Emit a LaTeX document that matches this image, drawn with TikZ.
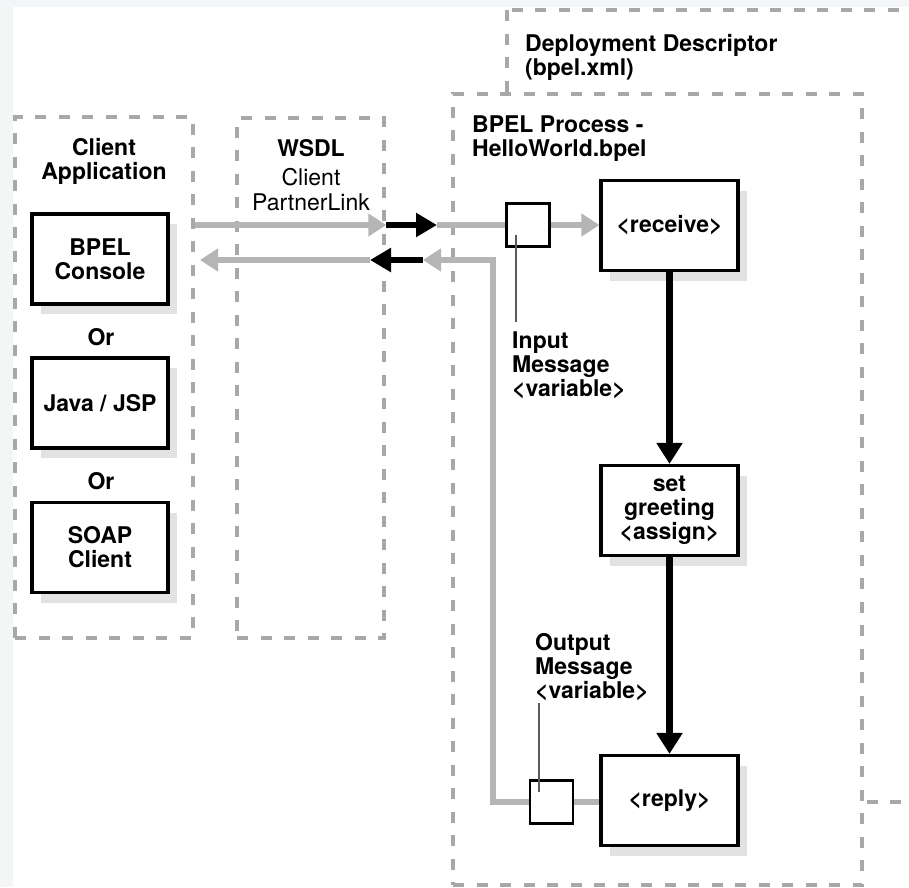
\documentclass[tikz,border=0pt]{standalone}
\usepackage{fontspec}
\setmainfont{TeX Gyre Heros}
\usetikzlibrary{arrows.meta,shadows,calc}
\definecolor{groupgray}{HTML}{A8A8A8}
\definecolor{flowgray}{HTML}{B5B5B5}
\definecolor{shadowgray}{HTML}{E2E2E2}
\definecolor{pagebg}{HTML}{F4F5F7}
\definecolor{leadgray}{HTML}{5A5A5A}
\newcommand{\labelfont}{\fontsize{23}{24}\selectfont\bfseries}
\newcommand{\plainfont}{\fontsize{23}{25}\selectfont}
\begin{document}
\begin{tikzpicture}[x=1pt,y=-1pt,
  groupbox/.style={draw=groupgray, line width=4.5pt, dash pattern=on 11pt off 12.5pt, fill=white, inner sep=0pt},
  card/.style={draw=black, line width=3.2pt, fill=white, minimum width=136pt, minimum height=90pt,
    align=center, font=\labelfont, inner sep=0pt,
    drop shadow={shadow xshift=9pt, shadow yshift=-10pt, fill=shadowgray, opacity=1}},
  varbox/.style={draw=black, line width=2.6pt, fill=white, minimum size=43pt, inner sep=0pt},
  caption/.style={font=\labelfont, align=left, inner sep=0pt, anchor=north west},
  ctitle/.style={font=\labelfont, align=center, inner sep=0pt, anchor=north},
  flow/.style={draw=flowgray, line width=6.5pt},
  flowtip/.style={flow, -{Triangle[length=18pt,width=22pt]}},
  ctrl/.style={draw=black, line width=6pt, -{Triangle[length=21pt,width=23pt]}},
  seq/.style={draw=black, line width=7.5pt, -{Triangle[length=21pt,width=25pt]}},
  leader/.style={draw=leadgray, line width=1.8pt}]
\useasboundingbox (0,0) rectangle (909,887);
\clip (0,0) rectangle (909,887);
% page
\fill[pagebg] (0,0) rectangle (909,887);
\fill[white] (13,7) rectangle (909,887);

% deployment descriptor and process containers
\draw[groupbox] (507,10) rectangle (980,802);
\node[groupbox, minimum width=409pt, minimum height=791pt] (proc) at (657.5,489.5) {};
\node[groupbox, minimum width=178pt, minimum height=521pt] (clientgrp) at (104,377.5) {};
\node[groupbox, minimum width=147pt, minimum height=520pt] (wsdl) at (310.5,378) {};

% container titles
\node[caption] (ddtitle) at (525,34) {Deployment Descriptor\\(bpel.xml)};
\node[caption] (proctitle) at (472,116) {BPEL Process -\\HelloWorld.bpel};
\node[ctitle] (clienttitle) at (104,138) {Client\\Application};
\node[ctitle] (wsdltitle) at (311,139) {WSDL};
\node[font=\plainfont, align=center, inner sep=0pt, anchor=north] (plink) at (311,168) {Client\\PartnerLink};

% client alternatives
\node[card] (console) at (100,259) {BPEL\\Console};
\node[font=\labelfont, inner sep=0pt, anchor=north] (or1) at (101,328) {Or};
\node[card] (jsp) at (100,403) {Java / JSP};
\node[font=\labelfont, inner sep=0pt, anchor=north] (or2) at (101,472) {Or};
\node[card] (soap) at (100,547.5) {SOAP\\Client};

% process activities
\node[card, minimum width=137pt] (recv) at (669.5,225.5) {<receive>};
\node[card, minimum width=137pt] (assign) at (669.5,510.5) {set\\greeting\\<assign>};
\node[card, minimum width=137pt] (reply) at (669.5,800.5) {<reply>};

% message variables
\node[varbox] (invar) at (528,225) {};
\node[varbox] (outvar) at (551.5,802) {};
\node[caption] (inlabel) at (512,332) {Input\\Message\\<variable>};
\node[caption] (outlabel) at (535,633) {Output\\Message\\<variable>};

% request path
\coordinate (reqtip) at (437,225);
\draw[flowtip] (clientgrp.east |- invar.west) -- (wsdl.east |- invar.west);
\draw[flow] (reqtip) -- (invar.west);
\draw[ctrl] (wsdl.east |- invar.west) -- (reqtip);
\draw[flowtip] (invar.east) -- (recv.west |- invar.east);

% response path
\coordinate (retcorner) at (493,260);
\coordinate (retgray) at (423,260);
\coordinate (retblack) at (370,260);
\coordinate (clienttip) at (200,260);
\draw[flow] (outvar.east) -- (outvar.east -| reply.west);
\draw[flowtip] (outvar.west) -| (retcorner) -- (retgray);
\draw[flowtip] (retblack) -- (clienttip);
\draw[ctrl] (retgray) -- (retblack);

% activity sequence
\draw[seq] (recv.south) -- (assign.north);
\draw[seq] (assign.south) -- (reply.north);

% variable leaders
\coordinate (inlead) at (516,235);
\coordinate (outlead) at (539,792);
\draw[leader, shorten >=10pt] (inlead) -- (inlead |- inlabel.north);
\draw[leader, shorten <=2pt] (outlead |- outlabel.south) -- (outlead);
\end{tikzpicture}
\end{document}
